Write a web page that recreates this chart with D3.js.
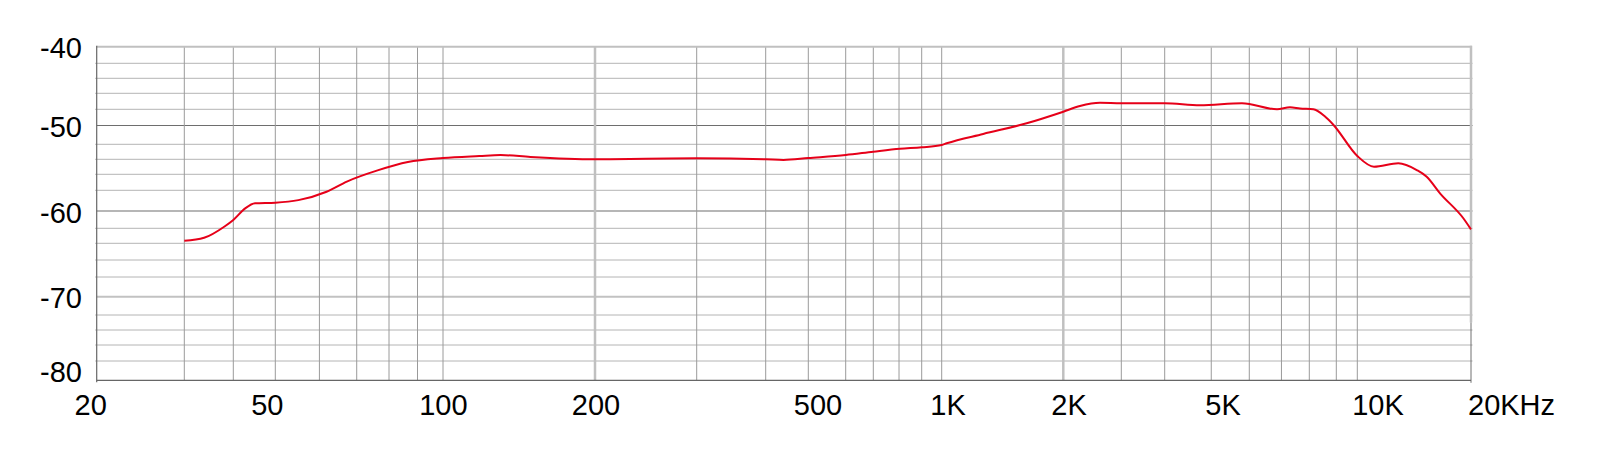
<!DOCTYPE html>
<html>
<head>
<meta charset="utf-8">
<script src="https://cdn.jsdelivr.net/npm/d3@7"></script>
<style>
  html, body { margin: 0; padding: 0; background: #fff; }
  svg { display: block; }
  text { font-family: "Liberation Sans", Arial, sans-serif; fill: #000; }
</style>
</head>
<body>
<svg id="chart" width="1600" height="450"></svg>
<script>
// ---- data ----
const frequencies = [30, 33.7, 38, 40, 42.6, 44.9, 50, 55, 61.8, 67.2, 76.3, 86.5, 100, 118, 130, 149, 200, 300, 400, 439, 500, 600, 700, 804, 900, 1000, 1029, 1267, 1623, 2000, 2247, 2585, 3000, 4000, 4738, 5794, 6853, 7293, 7652, 8141, 8567, 8883, 10000, 11070, 12842, 14369, 15265, 16557, 19086, 20000];
const levels = [-63.67, -63.27, -61.79, -61.04, -59.75, -59.26, -59.2, -58.95, -58.14, -56.91, -55.48, -54.36, -53.83, -53.56, -53.43, -53.69, -54.0, -53.87, -54.0, -54.09, -53.83, -53.43, -52.99, -52.6, -52.4, -52.09, -51.89, -50.9, -49.73, -48.3, -47.59, -47.18, -47.25, -47.25, -47.5, -47.25, -48.0, -47.75, -47.9, -48.0, -48.9, -49.9, -53.56, -54.99, -54.53, -55.43, -56.3, -58.29, -60.84, -62.15];

const xTickValues = [20, 50, 100, 200, 500, 1000, 2000, 5000, 10000, 20000];
const xTickLabels = ["20", "50", "100", "200", "500", "1K", "2K", "5K", "10K", "20KHz"];
const xMinorGrid = [30, 40, 50, 60, 70, 80, 90, 100, 300, 400, 500, 600, 700, 800, 900, 1000, 3000, 4000, 5000, 6000, 7000, 8000, 9000, 10000];
const xMajorGrid = [200, 2000];

const yTickValues = [-40, -50, -60, -70, -80];
const yTickLabels = ["-40", "-50", "-60", "-70", "-80"];
const yGridValues = [-80, -78, -76, -74, -72, -70, -68, -66, -64, -62, -60, -58, -56, -54, -52, -50, -48, -46, -44, -42, -40];

// ---- scales (the printed grid of the reference is irregular, so piecewise) ----
const x = d3.scaleLog()
  .domain([20, 30, 40, 50, 100, 200, 300, 400, 500, 600, 700, 900, 1000, 2000, 3000, 4000, 8000, 9000, 10000, 20000])
  .range([96.7, 184.3, 233.3, 275.3, 443, 595, 696.7, 765.7, 808.3, 845.7, 873.3, 921.7, 941.7, 1063.3, 1121.3, 1164.7, 1309.3, 1336.3, 1357.3, 1471]);
const xLabel = d3.scaleLog()
  .domain([20, 50, 100, 200, 500, 1000, 2000, 5000, 10000, 20000])
  .range([90.7, 267.3, 443.4, 596, 818, 948, 1069, 1223, 1378, 1468]);
const y = d3.scaleLinear()
  .domain(yGridValues)
  .range([380.3, 361, 345, 330, 315, 296.7, 277, 260, 243.3, 228.3, 211, 190.3, 174.3, 159.3, 144.3, 125.5, 109.3, 93.3, 78.3, 63.3, 46.7]);

const svg = d3.select("#chart");
const L = x(20), R = x(20000), T = y(-40), B = y(-80);

// horizontal grid
const gH = svg.append("g");
gH.selectAll("line.minor")
  .data(yGridValues.filter(v => v % 10 !== 0))
  .join("line")
  .attr("x1", L - 1.5).attr("x2", R + 1.5)
  .attr("y1", d => y(d)).attr("y2", d => y(d))
  .attr("stroke", "#b4b4b4").attr("stroke-width", 1);
gH.selectAll("line.major")
  .data([-50, -60])
  .join("line")
  .attr("x1", L).attr("x2", R + 1.5)
  .attr("y1", d => y(d)).attr("y2", d => y(d))
  .attr("stroke", "#6e6e6e").attr("stroke-width", 1.2);
gH.selectAll("line.light")
  .data([-70])
  .join("line")
  .attr("x1", L).attr("x2", R)
  .attr("y1", d => y(d)).attr("y2", d => y(d))
  .attr("stroke", "#c2c2c2").attr("stroke-width", 2);

// vertical grid
const gV = svg.append("g");
gV.selectAll("line")
  .data(xMinorGrid)
  .join("line")
  .attr("x1", d => x(d)).attr("x2", d => x(d))
  .attr("y1", T).attr("y2", B)
  .attr("stroke", "#9a9a9a").attr("stroke-width", 1);
gV.selectAll("line.thick")
  .data(xMajorGrid)
  .join("line")
  .attr("x1", d => x(d)).attr("x2", d => x(d))
  .attr("y1", T).attr("y2", B)
  .attr("stroke", "#c0c0c0").attr("stroke-width", 2.5);

// frame
svg.append("line").attr("x1", L).attr("x2", R + 1).attr("y1", T).attr("y2", T)
  .attr("stroke", "#c0c0c0").attr("stroke-width", 2);
svg.append("line").attr("x1", R).attr("x2", R).attr("y1", T - 1).attr("y2", y(-73))
  .attr("stroke", "#c0c0c0").attr("stroke-width", 2.5);
svg.append("line").attr("x1", R).attr("x2", R).attr("y1", y(-73)).attr("y2", B + 2.5)
  .attr("stroke", "#707070").attr("stroke-width", 1);
svg.append("line").attr("x1", L).attr("x2", L).attr("y1", T - 1).attr("y2", B + 2)
  .attr("stroke", "#666").attr("stroke-width", 1.2);
svg.append("line").attr("x1", L).attr("x2", R).attr("y1", B).attr("y2", B)
  .attr("stroke", "#666").attr("stroke-width", 1.2);

// y labels
svg.append("g").selectAll("text")
  .data(yTickValues)
  .join("text")
  .attr("x", 82)
  .attr("y", d => Math.min(y(d) + 1.5, B - 8))
  .attr("text-anchor", "end")
  .attr("dominant-baseline", "central")
  .attr("font-size", 29)
  .text((d, i) => yTickLabels[i]);

// x labels
svg.append("g").selectAll("text")
  .data(xTickValues)
  .join("text")
  .attr("x", d => xLabel(d))
  .attr("y", 415)
  .attr("text-anchor", d => d === 20000 ? "start" : "middle")
  .attr("font-size", 29)
  .text((d, i) => xTickLabels[i]);

// response curve
const pts = frequencies.map((f, i) => ({ f, v: levels[i] }));
svg.append("path")
  .datum(pts)
  .attr("fill", "none")
  .attr("stroke", "#e60019")
  .attr("stroke-width", 2)
  .attr("stroke-linejoin", "round")
  .attr("d", d3.line().x(d => x(d.f)).y(d => y(d.v)).curve(d3.curveMonotoneX));
</script>
</body>
</html>
